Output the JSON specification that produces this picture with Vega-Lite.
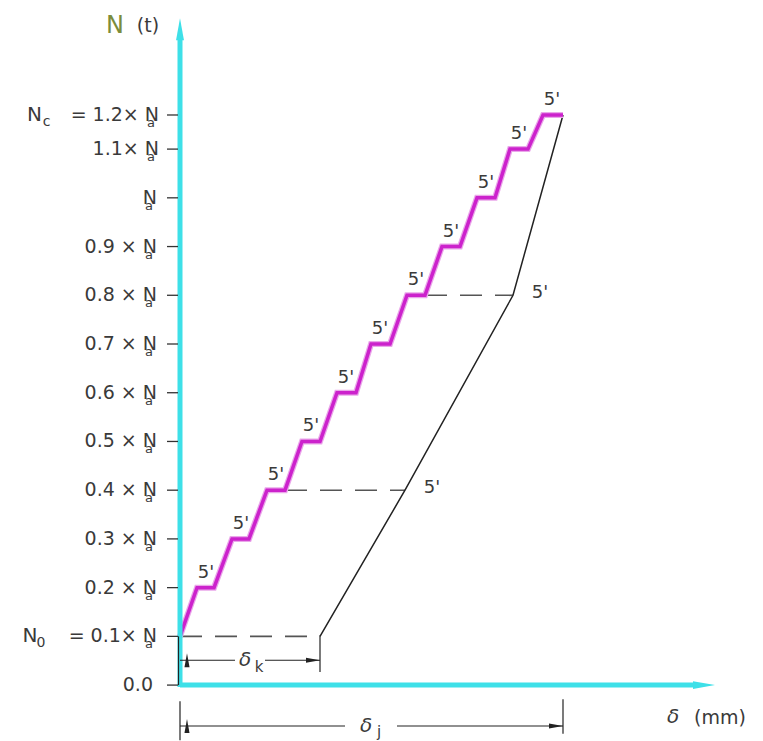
{
 "$schema": "https://vega.github.io/schema/vega-lite/v6.json",
 "width": 763, "height": 741,
 "autosize": {"type": "fit", "contains": "padding"},
 "padding": 0,
 "background": "white",
 "config": {"view": {"stroke": null}, "text": {"font": "DejaVu Sans", "color": "#3a3a3a"}},
 "datasets": {
  "stair": [
   {"x": 0, "y": 0.1},
   {"x": 1.7, "y": 0.2}, {"x": 3.4, "y": 0.2},
   {"x": 5.2, "y": 0.3}, {"x": 6.9, "y": 0.3},
   {"x": 8.7, "y": 0.4}, {"x": 10.5, "y": 0.4},
   {"x": 12.2, "y": 0.5}, {"x": 14.0, "y": 0.5},
   {"x": 15.7, "y": 0.6}, {"x": 17.6, "y": 0.6},
   {"x": 19.1, "y": 0.7}, {"x": 21.0, "y": 0.7},
   {"x": 22.7, "y": 0.8}, {"x": 24.5, "y": 0.8},
   {"x": 26.2, "y": 0.9}, {"x": 28.0, "y": 0.9},
   {"x": 29.7, "y": 1.0}, {"x": 31.5, "y": 1.0},
   {"x": 33.0, "y": 1.1}, {"x": 34.8, "y": 1.1},
   {"x": 36.3, "y": 1.17}, {"x": 38.3, "y": 1.17}
  ],
  "steps": [
   {"x": 1.7, "y": 0.2}, {"x": 5.2, "y": 0.3}, {"x": 8.7, "y": 0.4}, {"x": 12.2, "y": 0.5},
   {"x": 15.7, "y": 0.6}, {"x": 19.1, "y": 0.7}, {"x": 22.7, "y": 0.8}, {"x": 26.2, "y": 0.9},
   {"x": 29.7, "y": 1.0}, {"x": 33.0, "y": 1.1}, {"x": 36.3, "y": 1.17}
  ],
  "unload": [
   {"x": 38.3, "y": 1.17}, {"x": 33.3, "y": 0.8}, {"x": 22.5, "y": 0.4}, {"x": 14.0, "y": 0.1}
  ],
  "vertex": [{"x": 33.3, "y": 0.8}, {"x": 22.5, "y": 0.4}],
  "dash": [
   {"g": "a", "x": 0, "y": 0.1}, {"g": "a", "x": 14.0, "y": 0.1},
   {"g": "b", "x": 10.5, "y": 0.4}, {"g": "b", "x": 22.5, "y": 0.4},
   {"g": "c", "x": 24.5, "y": 0.8}, {"g": "c", "x": 33.3, "y": 0.8}
  ],
  "axes": [
   {"g": "y", "x": 0, "y": -0.004}, {"g": "y", "x": 0, "y": 1.33},
   {"g": "x", "x": 0, "y": 0}, {"g": "x", "x": 51.5, "y": 0}
  ],
  "axisArrows": [{"x": 0, "y": 1.346, "d": "up"}, {"x": 52.4, "y": 0, "d": "right"}],
  "levels": [
   {"y": 0.0, "lx": -2.7, "label": "0.0", "sub": ""},
   {"y": 0.1, "lx": -2.3, "label": "=  0.1×  N", "sub": "a"},
   {"y": 0.2, "lx": -2.3, "label": "0.2 × N", "sub": "a"},
   {"y": 0.3, "lx": -2.3, "label": "0.3 × N", "sub": "a"},
   {"y": 0.4, "lx": -2.3, "label": "0.4 × N", "sub": "a"},
   {"y": 0.5, "lx": -2.3, "label": "0.5 × N", "sub": "a"},
   {"y": 0.6, "lx": -2.3, "label": "0.6 × N", "sub": "a"},
   {"y": 0.7, "lx": -2.3, "label": "0.7 × N", "sub": "a"},
   {"y": 0.8, "lx": -2.3, "label": "0.8 × N", "sub": "a"},
   {"y": 0.9, "lx": -2.3, "label": "0.9 × N", "sub": "a"},
   {"y": 1.0, "lx": -2.3, "label": "N", "sub": "a"},
   {"y": 1.1, "lx": -2.1, "label": "1.1×  N", "sub": "a"},
   {"y": 1.17, "lx": -2.1, "label": "=  1.2×  N", "sub": "a"}
  ],
  "ticks": [
   {"x": -1.3, "x2": -0.2, "y": 0.0}, {"x": -1.3, "x2": -0.2, "y": 0.1}, {"x": -1.3, "x2": -0.2, "y": 0.2},
   {"x": -1.3, "x2": -0.2, "y": 0.3}, {"x": -1.3, "x2": -0.2, "y": 0.4}, {"x": -1.3, "x2": -0.2, "y": 0.5},
   {"x": -1.3, "x2": -0.2, "y": 0.6}, {"x": -1.3, "x2": -0.2, "y": 0.7}, {"x": -1.3, "x2": -0.2, "y": 0.8},
   {"x": -1.3, "x2": -0.2, "y": 0.9}, {"x": -1.3, "x2": -0.2, "y": 1.0}, {"x": -1.3, "x2": -0.2, "y": 1.1},
   {"x": -1.3, "x2": -0.2, "y": 1.17}
  ],
  "names": [{"x": -15.0, "y": 0.1, "t": "N"}, {"x": -14.55, "y": 1.17, "t": "N"}],
  "nameSubs": [{"x": -13.9, "y": 0.1, "t": "0"}, {"x": -13.35, "y": 1.17, "t": "c"}],
  "dimH": [
   {"x": 0, "x2": 5.5, "y": 0.051}, {"x": 8.5, "x2": 14.0, "y": 0.051},
   {"x": 0, "x2": 16.5, "y": -0.084}, {"x": 21.7, "x2": 38.3, "y": -0.084}
  ],
  "dimV": [
   {"x": 14.0, "y": 0.102, "y2": 0.027},
   {"x": 0, "y": -0.033, "y2": -0.113},
   {"x": 38.3, "y": -0.029, "y2": -0.1},
   {"x": -0.15, "y": 0.1, "y2": 0.0}
  ],
  "dimArrows": [
   {"x": 0.7, "y": 0.051, "d": "l"}, {"x": 13.3, "y": 0.051, "d": "r"},
   {"x": 0.7, "y": -0.084, "d": "l"}, {"x": 37.6, "y": -0.084, "d": "r"}
  ],
  "deltas": [{"x": 6.5, "y": 0.051, "t": "δ"}, {"x": 18.6, "y": -0.084, "t": "δ"}, {"x": 49.3, "y": -0.065, "t": "δ"}],
  "deltaSubs": [{"x": 7.9, "y": 0.037, "t": "k"}, {"x": 19.9, "y": -0.096, "t": "j"}],
  "titleN": [{"x": -6.5, "y": 1.352, "t": "N"}],
  "titleT": [{"x": -3.2, "y": 1.352, "t": "(t)"}],
  "titleMM": [{"x": 54.0, "y": -0.068, "t": "(mm)"}]
 },
 "encoding": {
  "x": {"field": "x", "type": "quantitative", "scale": {"domain": [-18, 58.3], "nice": false, "zero": false}, "axis": null},
  "y": {"field": "y", "type": "quantitative", "scale": {"domain": [-0.1127, 1.406], "nice": false, "zero": false}, "axis": null}
 },
 "layer": [
  {"data": {"name": "dash"}, "mark": {"type": "line", "color": "#555", "strokeWidth": 1.6, "strokeDash": [22, 13]},
   "encoding": {"detail": {"field": "g"}, "order": {"value": null}}},
  {"data": {"name": "unload"}, "mark": {"type": "line", "color": "#222", "strokeWidth": 1.5},
   "encoding": {"order": {"value": null}}},
  {"data": {"name": "stair"}, "mark": {"type": "line", "color": "#eaa6ea", "strokeWidth": 6, "strokeJoin": "miter"},
   "encoding": {"order": {"value": null}}},
  {"data": {"name": "stair"}, "mark": {"type": "line", "color": "#cc22cc", "strokeWidth": 3.5, "strokeJoin": "miter"},
   "encoding": {"order": {"value": null}}},
  {"data": {"name": "axes"}, "mark": {"type": "line", "color": "#3ee0e8", "strokeWidth": 5, "strokeCap": "butt"},
   "encoding": {"detail": {"field": "g"}, "order": {"value": null}}},
  {"data": {"name": "axisArrows"}, "mark": {"type": "point", "filled": true, "opacity": 1, "color": "#3ee0e8", "size": 484},
   "encoding": {"shape": {"field": "d", "type": "nominal", "legend": null,
     "scale": {"domain": ["up", "right"], "range": ["M0,-1L0.36,1L-0.36,1Z", "M1,0L-1,-0.36L-1,0.36Z"]}}}},
  {"data": {"name": "ticks"}, "mark": {"type": "rule", "color": "#333", "strokeWidth": 1.3},
   "encoding": {"x2": {"field": "x2"}}},
  {"data": {"name": "levels"}, "mark": {"type": "text", "align": "right", "baseline": "middle", "fontSize": 19},
   "encoding": {"x": {"field": "lx", "type": "quantitative"}, "text": {"field": "label"}}},
  {"data": {"name": "levels"}, "mark": {"type": "text", "align": "center", "baseline": "middle", "fontSize": 13, "dx": -8, "dy": 8},
   "encoding": {"x": {"field": "lx", "type": "quantitative"}, "text": {"field": "sub"}}},
  {"data": {"name": "names"}, "mark": {"type": "text", "align": "center", "baseline": "middle", "fontSize": 20},
   "encoding": {"text": {"field": "t"}}},
  {"data": {"name": "nameSubs"}, "mark": {"type": "text", "align": "center", "baseline": "middle", "fontSize": 14, "dy": 7},
   "encoding": {"text": {"field": "t"}}},
  {"data": {"name": "steps"}, "mark": {"type": "text", "align": "center", "baseline": "middle", "fontSize": 18, "dx": 9, "dy": -15, "text": "5'"}},
  {"data": {"name": "vertex"}, "mark": {"type": "text", "align": "center", "baseline": "middle", "fontSize": 18, "dx": 27, "dy": -2, "text": "5'"}},
  {"data": {"name": "dimH"}, "mark": {"type": "rule", "color": "#222", "strokeWidth": 1.2},
   "encoding": {"x2": {"field": "x2"}}},
  {"data": {"name": "dimV"}, "mark": {"type": "rule", "color": "#222", "strokeWidth": 1.2},
   "encoding": {"y2": {"field": "y2"}}},
  {"data": {"name": "dimArrows"}, "mark": {"type": "point", "filled": true, "opacity": 1, "color": "#222", "size": 196},
   "encoding": {"shape": {"field": "d", "type": "nominal", "legend": null,
     "scale": {"domain": ["l", "r"], "range": ["M-1,0L1,-0.35L1,0.35Z", "M1,0L-1,-0.35L-1,0.35Z"]}}}},
  {"data": {"name": "deltas"}, "mark": {"type": "text", "align": "center", "baseline": "middle", "fontSize": 20, "fontStyle": "italic"},
   "encoding": {"text": {"field": "t"}}},
  {"data": {"name": "deltaSubs"}, "mark": {"type": "text", "align": "center", "baseline": "middle", "fontSize": 15},
   "encoding": {"text": {"field": "t"}}},
  {"data": {"name": "titleN"}, "mark": {"type": "text", "align": "center", "baseline": "middle", "fontSize": 24, "color": "#7c8c3c"},
   "encoding": {"text": {"field": "t"}}},
  {"data": {"name": "titleT"}, "mark": {"type": "text", "align": "center", "baseline": "middle", "fontSize": 19},
   "encoding": {"text": {"field": "t"}}},
  {"data": {"name": "titleMM"}, "mark": {"type": "text", "align": "center", "baseline": "middle", "fontSize": 19},
   "encoding": {"text": {"field": "t"}}}
 ]
}
